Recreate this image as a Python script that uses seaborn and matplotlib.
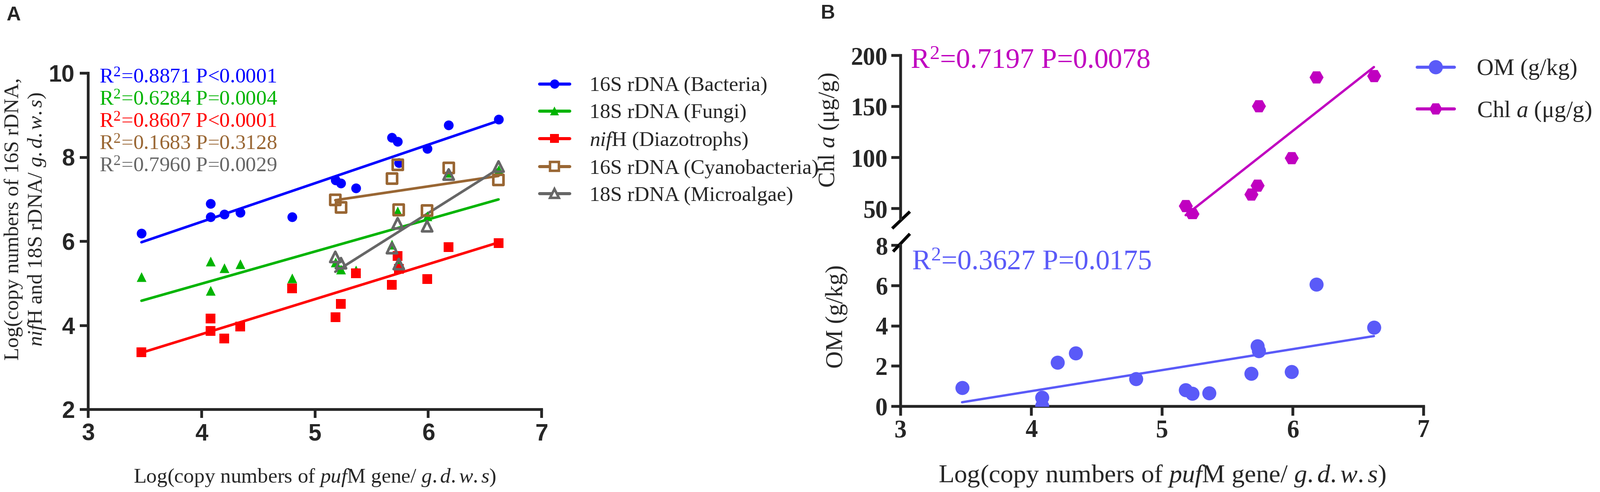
import numpy as np
import pandas as pd
import matplotlib
matplotlib.use("Agg")
import matplotlib.pyplot as plt
import seaborn as sns
from matplotlib.lines import Line2D

# ---------------- data ----------------
x_puf = [3.47, 4.08, 4.08, 4.20, 4.34, 4.80, 5.18, 5.23, 5.36, 5.68, 5.73, 5.74, 5.99, 6.18, 6.62]
bacteria_16s = [6.19, 6.90, 6.58, 6.64, 6.69, 6.58, 7.46, 7.38, 7.27, 8.47, 8.37, 7.87, 8.21, 8.76, 8.90]
fungi_18s = [5.16, 5.52, 4.83, 5.37, 5.46, 5.12, 5.50, 5.34, 5.31, 5.93, 6.72, 5.45, 6.60, 7.64, 7.70]
nifh = [3.36, 4.16, 3.87, 3.69, 3.97, 4.88, 4.19, 4.51, 5.24, 4.97, 5.65, 5.35, 5.10, 5.86, 5.96]
om_gkg = [0.93, 0.43, 0.02, 2.19, 2.65, 1.36, 0.82, 0.64, 0.67, 1.64, 2.99, 2.76, 1.71, 6.05, 3.92]

x_sub = [5.18, 5.23, 5.68, 5.73, 5.74, 5.99, 6.18, 6.62]
cyano_16s = [6.99, 6.81, 7.49, 7.82, 6.75, 6.73, 7.75, 7.46]
microalgae_18s = [5.63, 5.48, 5.84, 6.43, 5.46, 6.36, 7.59, 7.78]
chl_a = [52.5, 44.7, 64.0, 72.7, 150.3, 99.7, 178.9, 179.8]

labels_A = ["16S rDNA (Bacteria)", "18S rDNA (Fungi)", r"$\it{nif}$H (Diazotrophs)",
            "16S rDNA (Cyanobacteria)", "18S rDNA (Microalgae)"]
stats_A = [r"R$^2$=0.8871 P<0.0001", r"R$^2$=0.6284 P=0.0004", r"R$^2$=0.8607 P<0.0001",
           r"R$^2$=0.1683 P=0.3128", r"R$^2$=0.7960 P=0.0029"]
labels_B = ["OM (g/kg)", r"Chl $\it{a}$ (μg/g)"]
stats_B = [r"R$^2$=0.3627 P=0.0175", r"R$^2$=0.7197 P=0.0078"]
xticks = [3, 4, 5, 6, 7]
yticks_A = [2, 4, 6, 8, 10]
yticks_om = [0, 2, 4, 6, 8]
yticks_chl = [50, 100, 150, 200]

# ---------------- style ----------------
sns.set_style("ticks")
plt.rcParams["font.family"] = ["Liberation Serif", "DejaVu Serif"]
plt.rcParams["mathtext.fontset"] = "custom"
plt.rcParams["mathtext.rm"] = "Liberation Serif"
plt.rcParams["mathtext.it"] = "Liberation Serif:italic"
plt.rcParams["mathtext.bf"] = "Liberation Serif:bold"

W, H = 3610, 1109
fig = plt.figure(figsize=(W / 100, H / 100), dpi=100)

def fx(px):
    return px / W

def fy(py):
    return 1 - py / H

cols_A = ["#0000FF", "#00B400", "#FF0000", "#996633", "#666666"]
mk_A = ["o", "^", "s", "s", "^"]
filled_A = [True, True, True, False, False]
series_A = [(x_puf, bacteria_16s), (x_puf, fungi_18s), (x_puf, nifh),
            (x_sub, cyano_16s), (x_sub, microalgae_18s)]

# ---------------- panel A ----------------
axA = fig.add_axes([fx(199), fy(923), fx(1222) - fx(199), fy(165) - fy(923)])
for (xs, ys), c, m, f in zip(series_A, cols_A, mk_A, filled_A):
    if f:
        skw = dict(s=250, linewidths=0, alpha=1, zorder=3)
    else:
        skw = dict(s=280, facecolors="none", edgecolors=c, linewidths=4.2, alpha=1, zorder=4)
    sns.regplot(x=np.array(xs), y=np.array(ys), ax=axA, ci=None, truncate=True,
                marker=m, color=c, scatter_kws=skw, line_kws=dict(lw=4.2, zorder=2))
axA.set_xlim(3, 7)
axA.set_ylim(2, 10)
axA.set_xticks(xticks)
axA.set_yticks(yticks_A)
axA.set_xlabel("")
axA.set_ylabel("")
sns.despine(ax=axA)
for s in ["left", "bottom"]:
    axA.spines[s].set_linewidth(4.5)
axA.tick_params(axis="both", length=14, width=4.5, labelsize=38, pad=8)
for t in axA.get_xticklabels() + axA.get_yticklabels():
    t.set_fontfamily(["Liberation Sans", "DejaVu Sans"])
    t.set_fontweight("bold")

for i, (txt, c) in enumerate(zip(stats_A, cols_A)):
    fig.text(fx(224), fy(176 + 50 * i), txt, color=c, fontsize=34, ha="left", va="center")

handles_A = []
for c, m, f in zip(cols_A, mk_A, filled_A):
    handles_A.append(Line2D([], [], color=c, lw=5, marker=m, markersize=15,
                            markerfacecolor=c if f else "white", markeredgecolor=c,
                            markeredgewidth=0 if f else 4))
fig.legend(handles_A, labels_A, loc="upper left", bbox_to_anchor=(fx(1217), fy(172)),
           frameon=False, fontsize=34, handlelength=1.45, handletextpad=0.95,
           labelspacing=0.38, borderpad=0, borderaxespad=0)

fig.text(fx(31), fy(494), "Log(copy numbers of 16S rDNA,", rotation=90,
         fontsize=34, ha="center", va="center")
fig.text(fx(84), fy(494), r"$\it{nif}$H and 18S rDNA/ $\it{g.d.w.s}$)", rotation=90,
         fontsize=34, ha="center", va="center")
fig.text(fx(710), fy(1077), r"Log(copy numbers of $\it{puf}$M gene/ $\it{g.d.w.s}$)",
         fontsize=34, ha="center", va="center")
fig.text(fx(31), fy(34), "A", fontsize=32, fontweight="bold",
         family=["Liberation Sans", "DejaVu Sans"], ha="center", va="center")

# ---------------- panel B ----------------
om_col = "#5A5AF8"
chl_col = "#C000C0"
bl, br = 2032, 3212
t_top, t_bot = 125, 493
b_top, b_bot = 553, 916
axT = fig.add_axes([fx(bl), fy(t_bot), fx(br) - fx(bl), fy(t_top) - fy(t_bot)])
axB = fig.add_axes([fx(bl), fy(b_bot), fx(br) - fx(bl), fy(b_top) - fy(b_bot)])

sns.regplot(x=np.array(x_puf), y=np.array(om_gkg), ax=axB, ci=None, truncate=True,
            marker="o", color=om_col, scatter_kws=dict(s=520, linewidths=0, alpha=1, zorder=3),
            line_kws=dict(lw=3.8, zorder=2))
sns.regplot(x=np.array(x_sub), y=np.array(chl_a), ax=axT, ci=None, truncate=True,
            marker="H", color=chl_col, scatter_kws=dict(s=520, linewidths=0, alpha=1, zorder=3),
            line_kws=dict(lw=3.8, zorder=2))

for ax in (axT, axB):
    ax.set_xlim(3, 7)
    ax.set_xlabel("")
    ax.set_ylabel("")
    ax.patch.set_alpha(0)
axT.set_ylim(40, 200)
axT.set_yticks(yticks_chl)
axB.set_ylim(0, 8)
axB.set_yticks(yticks_om)
axB.set_xticks(xticks)
axT.set_xticks([])
sns.despine(ax=axB)
sns.despine(ax=axT, bottom=True)
for ax in (axT, axB):
    for s in ["left", "bottom"]:
        ax.spines[s].set_linewidth(4.6)
    ax.tick_params(axis="both", length=15, width=4.6, labelsize=40, pad=6)
    for t in ax.get_xticklabels() + ax.get_yticklabels():
        t.set_fontweight("bold")

# axis break marks
hT = t_bot - t_top
hB = b_bot - b_top
wB = br - bl
axT.plot([-19 / wB, 21 / wB], [-22 / hT, 16 / hT], transform=axT.transAxes,
         color="black", lw=5, clip_on=False, solid_capstyle="butt")
axB.plot([-17 / wB, 21 / wB], [1 - 14 / hB, 1 + 26 / hB], transform=axB.transAxes,
         color="black", lw=5, clip_on=False, solid_capstyle="butt")

fig.text(fx(2054), fy(138), stats_B[1], color=chl_col, fontsize=46, ha="left", va="center")
fig.text(fx(2057), fy(592), stats_B[0], color=om_col, fontsize=46, ha="left", va="center")

handles_B = [Line2D([], [], color=om_col, lw=5, marker="o", markersize=23, markeredgewidth=0),
             Line2D([], [], color=chl_col, lw=5, marker="H", markersize=21, markeredgewidth=0)]
fig.legend(handles_B, labels_B, loc="upper left", bbox_to_anchor=(fx(3197), fy(132)),
           frameon=False, fontsize=38, handlelength=1.6, handletextpad=0.95,
           labelspacing=0.85, borderpad=0, borderaxespad=0)

fig.text(fx(1870), fy(293), r"Chl $\it{a}$ (μg/g)", rotation=90, fontsize=38,
         ha="center", va="center")
fig.text(fx(1888), fy(713), "OM (g/kg)", rotation=90, fontsize=39,
         ha="center", va="center")
fig.text(fx(2622), fy(1073), r"Log(copy numbers of $\it{puf}$M gene/ $\it{g.d.w.s}$)",
         fontsize=42, ha="center", va="center")
fig.text(fx(1868), fy(30), "B", fontsize=32, fontweight="bold",
         family=["Liberation Sans", "DejaVu Sans"], ha="center", va="center")

fig.savefig("out.png", dpi=100)
